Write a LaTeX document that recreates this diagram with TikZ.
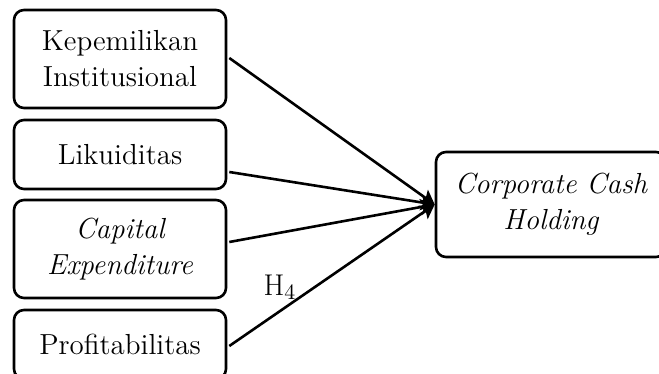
\documentclass[tikz,border=0pt]{standalone}
\usetikzlibrary{arrows.meta,calc}
\begin{document}
\begin{tikzpicture}[x=0.5pt,y=-0.5pt,
  box/.style={draw,line width=1.3pt,rounded corners=5pt,align=center,inner sep=0pt,
    font=\fontsize{14.5}{18}\selectfont,text width=100pt},
  conn/.style={line width=1.3pt,-{Stealth[length=7pt,width=8pt,inset=1.5pt]}},
  lbl/.style={font=\fontsize{15}{18}\selectfont}]
\useasboundingbox (0,0) rectangle (659,374);
\node[box,minimum width=106pt,minimum height=49pt] (b1) at (120,59) {Kepemilikan\\Institusional};
\node[box,minimum width=106pt,minimum height=34.5pt] (b2) at (120,154.5) {Likuiditas};
\node[box,minimum width=106pt,minimum height=49pt] (b3) at (120,249) {\itshape Capital\\\itshape Expenditure};
\node[box,minimum width=106pt,minimum height=34.5pt] (b4) at (120,344.5) {Profitabilitas};
\node[box,minimum width=115pt,minimum height=52.5pt,text width=110pt] (t) at (551,204.5) {\itshape Corporate Cash\\\itshape Holding};
\draw[conn] ($(b1.east)+(2,-1)$) -- (t.west);
\draw[conn] ($(b2.east)+(2,17.5)$) -- (t.west);
\draw[conn] ($(b3.east)+(2,-7)$) -- (t.west);
\draw[conn] ($(b4.east)+(2,1.5)$) -- (t.west);
\node[lbl] (h4) at (280,287) {H$_4$};
\end{tikzpicture}
\end{document}
